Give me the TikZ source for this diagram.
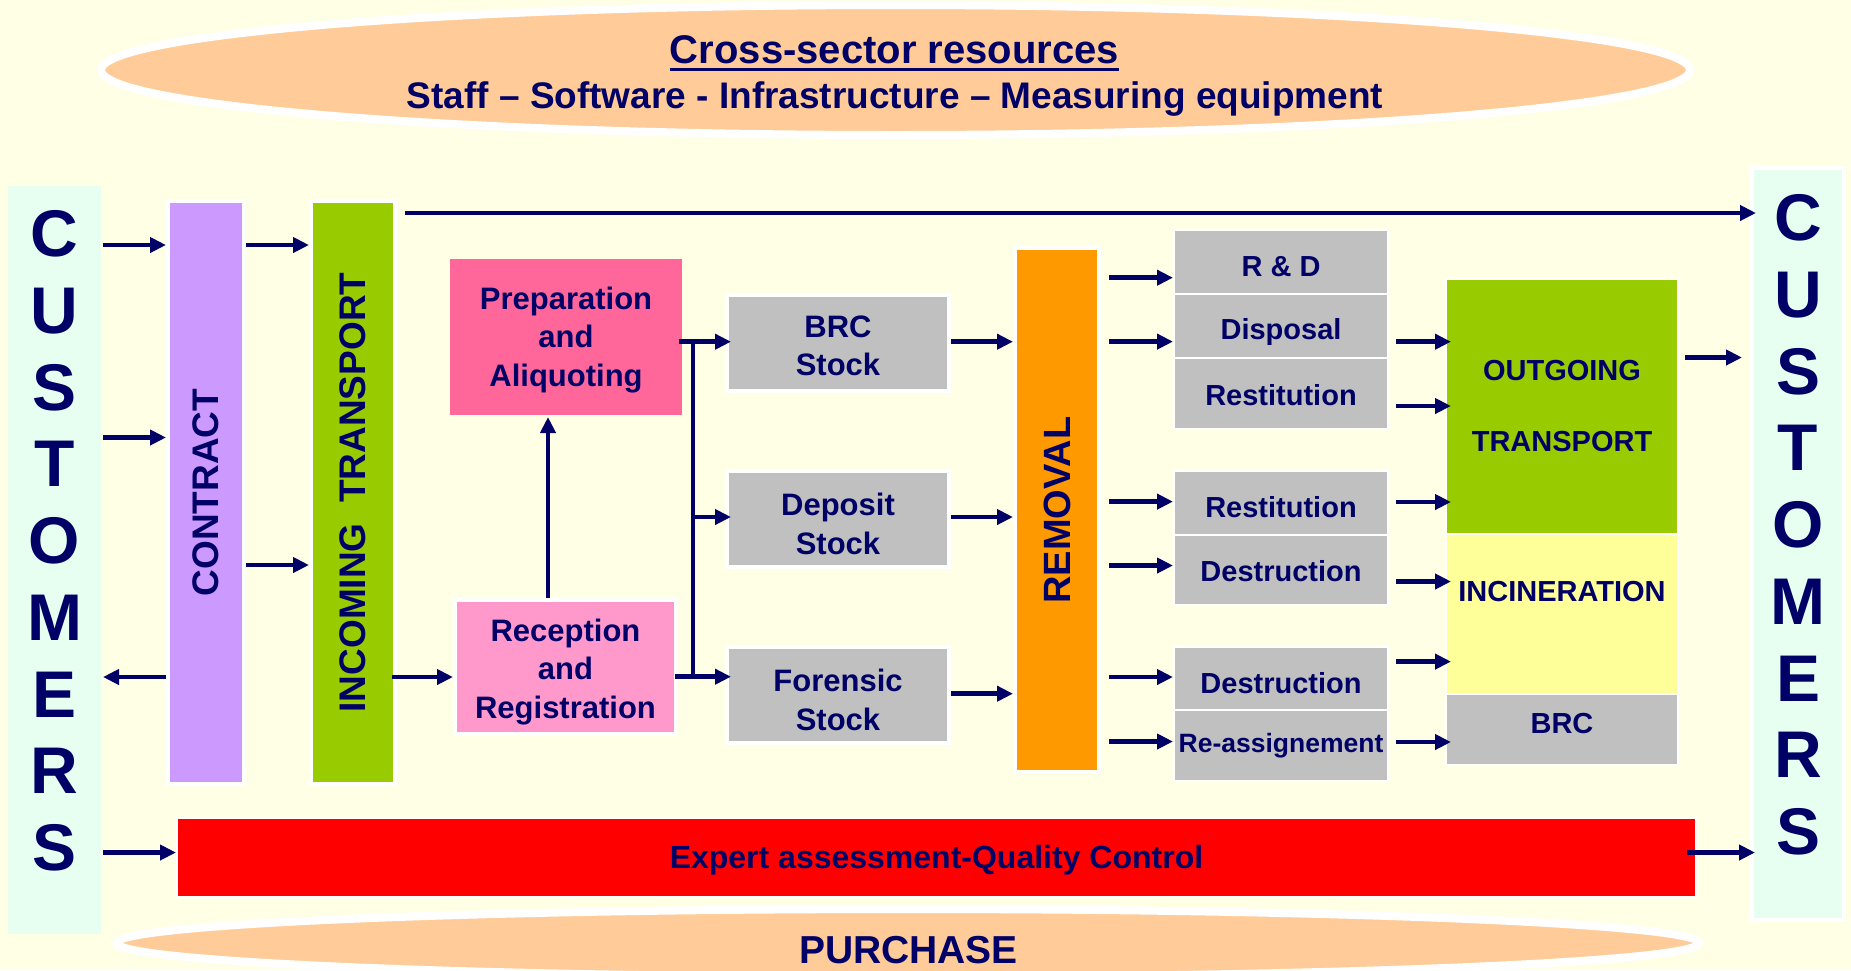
\documentclass[tikz,border=0pt]{standalone}
\usepackage{fontspec}
\setmainfont{Liberation Sans}
\usetikzlibrary{shapes.geometric,arrows.meta}

\definecolor{bgyellow}{HTML}{FFFFE5}
\definecolor{peach}{HTML}{FFCC99}
\definecolor{navy}{HTML}{000066}
\definecolor{mint}{HTML}{E6FFF0}
\definecolor{lilac}{HTML}{CC99FF}
\definecolor{lime}{HTML}{99CC00}
\definecolor{rosered}{HTML}{FF6699}
\definecolor{rosepink}{HTML}{FF99CC}
\definecolor{stockgray}{HTML}{C0C0C0}
\definecolor{amber}{HTML}{FF9900}
\definecolor{paleyellow}{HTML}{FFFF99}
\definecolor{alertred}{HTML}{FF0000}

\newcommand{\fs}[2]{\fontsize{#1}{#2}\selectfont}
% horizontal connector between two nodes at a given height
\newcommand{\flow}[4][]{%
  \coordinate (lvl) at (0,#4);
  \draw[arr,#1] (#2 |- lvl) -- (#3 |- lvl);}

\begin{document}
\begin{tikzpicture}[x=1pt,y=-1pt,
  box/.style={rectangle, inner sep=0pt, draw=white, line width=4pt},
  stock/.style={box, fill=stockgray},
  sub/.style={box, fill=stockgray, line width=2pt},
  rot/.style={rotate=90, inner sep=0pt, text=navy},
  lbl/.style={inner sep=0pt, text=navy, align=center},
  big/.style={lbl, font={\bfseries\fs{31}{38.6}}},
  small/.style={lbl, font={\bfseries\fs{29}{34}}},
  arr/.style={draw=navy, line width=4.5pt, -{Triangle[length=16pt,width=15pt]}},
  ln/.style={draw=navy, line width=4.5pt},
  oval/.style={ellipse, draw=white, line width=8pt, fill=peach, inner sep=0pt}]

\useasboundingbox (0,0) rectangle (1851,970);
\fill[bgyellow] (0,0) rectangle (1851,970);

% shared resources
\node[oval, minimum width=1589, minimum height=130] (res) at (895.5,70) {};
\node[lbl, anchor=base, font={\bfseries\fs{40}{46}}] (title) at (894.5,63) {Cross-sector resources};
\draw[navy, line width=3pt] ([yshift=-6pt]title.base west) -- ([yshift=-6pt]title.base east);
\node[lbl, anchor=base, font={\bfseries\fs{37}{44}}] (items) at (895,108)
  {Staff – Software - Infrastructure – Measuring equipment};

% purchase
\node[oval, minimum width=1583, minimum height=68] (purch) at (908,943) {};
\node[lbl, font={\bfseries\fs{39}{44}}] (purchT) at (908.5,950) {PURCHASE};

% customers columns
\node[box, draw=none, fill=mint, minimum width=93, minimum height=748] (custL) at (54.5,560) {};
\node[lbl, font={\bfseries\fs{66}{76.75}}] (custLT) at (54.5,541) {C\\U\\S\\T\\O\\M\\E\\R\\S};
\node[box, fill=mint, minimum width=92, minimum height=752] (custR) at (1798,544) {};
\node[lbl, font={\bfseries\fs{66}{76.75}}] (custRT) at (1798,525) {C\\U\\S\\T\\O\\M\\E\\R\\S};

% contract and incoming transport
\node[box, fill=lilac, minimum width=76, minimum height=583] (contract) at (206,492.5) {};
\node[rot, font={\bfseries\fs{37}{44}}] (contractT) at (contract) {CONTRACT};
\node[box, fill=lime, minimum width=84, minimum height=583] (incoming) at (353,492.5) {};
\node[rot, font={\bfseries\fs{37}{44}}] (incomingT) at (incoming) {INCOMING~~TRANSPORT};

% laboratory steps
\node[box, draw=none, fill=rosered, minimum width=232, minimum height=156] (prep) at (566,337) {};
\node[big] (prepT) at ([yshift=-3pt]prep) {Preparation\\and\\Aliquoting};
\node[box, fill=rosepink, minimum width=221, minimum height=134] (recep) at (565.5,667) {};
\node[big] (recepT) at ([yshift=-5pt]recep) {Reception\\and\\Registration};

% stocks
\node[stock, minimum width=222, minimum height=96] (brcS) at (838,343) {};
\node[big] (brcST) at ([yshift=-3pt]brcS) {BRC\\Stock};
\node[stock, minimum width=222, minimum height=96] (depS) at (838,519) {};
\node[big] (depST) at ([yshift=-5pt]depS) {Deposit\\Stock};
\node[stock, minimum width=222, minimum height=96] (forS) at (838,695) {};
\node[big] (forST) at ([yshift=-5pt]forS) {Forensic\\Stock};

% removal
\node[box, fill=amber, minimum width=84, minimum height=524] (removal) at (1057,510) {};
\node[rot, font={\bfseries\fs{38}{44}}] (removalT) at (removal) {REMOVAL};

% destinations
\node[sub, minimum width=214, minimum height=64] (rd) at (1281,262) {};
\node[small] (rdT) at ([yshift=-5pt]rd) {R \& D};
\node[sub, minimum width=214, minimum height=64] (disposal) at (1281,326) {};
\node[small] (disposalT) at ([yshift=-6pt]disposal) {Disposal};
\node[sub, minimum width=214, minimum height=71] (restA) at (1281,393.5) {};
\node[small] (restAT) at ([yshift=-2pt]restA) {Restitution};
\node[sub, minimum width=214, minimum height=64] (restB) at (1281,503) {};
\node[small] (restBT) at ([yshift=-4pt]restB) {Restitution};
\node[sub, minimum width=214, minimum height=70] (destA) at (1281,570) {};
\node[small] (destAT) at ([yshift=-1pt]destA) {Destruction};
\node[sub, minimum width=214, minimum height=63] (destB) at (1281,678.5) {};
\node[small] (destBT) at ([yshift=-5pt]destB) {Destruction};
\node[sub, minimum width=214, minimum height=71] (reas) at (1281,745.5) {};
\node[lbl, font={\bfseries\fs{26.5}{32}}] (reasT) at (reas) {Re-assignement};

% outgoing column
\node[box, line width=2pt, fill=lime, minimum width=232, minimum height=255] (outgoing) at (1562,406.5) {};
\node[lbl, font={\bfseries\fs{29}{71}}] (outgoingT) at (outgoing) {OUTGOING\\TRANSPORT};
\node[box, line width=2pt, fill=paleyellow, minimum width=232, minimum height=160] (incin) at (1562,614) {};
\node[small] (incinT) at (1562,592) {INCINERATION};
\node[box, line width=2pt, fill=stockgray, minimum width=232, minimum height=71] (brc) at (1562,729.5) {};
\node[small] (brcT) at (1562,724) {BRC};

% quality control band
\node[box, line width=2pt, fill=alertred, minimum width=1519, minimum height=79] (expert) at (936.5,857.5) {};
\node[lbl, font={\bfseries\fs{32}{38}}] (expertT) at ([yshift=-3pt]expert) {Expert assessment-Quality Control};

% connectors: customers and contract
\flow{custL.east}{contract.west}{245}
\flow{custL.east}{contract.west}{437.5}
\flow{contract.west}{custL.east}{677}
\flow{contract.east}{incoming.west}{245}
\flow{contract.east}{incoming.west}{565}
\flow[shorten <=-5pt]{incoming.east}{recep.west}{677}
\flow[shorten <=8pt, shorten >=-6pt]{incoming.east}{custR.west}{213}

% reception to preparation
\coordinate (px) at (548,0);
\draw[arr] (recep.north -| px) -- (prep.south -| px);

% distribution to the stocks
\coordinate (jt) at (693,341.7);
\coordinate (jb) at (693,676.7);
\draw[ln] (jt) -- (jb);
\flow[shorten <=-5pt, shorten >=-6pt]{prep.east}{brcS.west}{341.7}
\flow[shorten >=-6pt]{jt}{depS.west}{517}
\flow[shorten <=-3pt, shorten >=-6pt]{recep.east}{forS.west}{676.7}

% stocks to removal
\flow{brcS.east}{removal.west}{341.7}
\flow{depS.east}{removal.west}{517}
\flow{forS.east}{removal.west}{693.7}

% removal to destinations
\flow[shorten <=8pt]{removal.east}{rd.west}{277.7}
\flow[shorten <=8pt]{removal.east}{disposal.west}{341.6}
\flow[shorten <=8pt]{removal.east}{restB.west}{501.6}
\flow[shorten <=8pt]{removal.east}{destA.west}{565.5}
\flow[shorten <=8pt]{removal.east}{destB.west}{677}
\flow[shorten <=8pt]{removal.east}{reas.west}{741.5}

% destinations to the outgoing column
\flow[shorten <=7pt, shorten >=-6pt]{disposal.east}{outgoing.west}{341.7}
\flow[shorten <=7pt, shorten >=-6pt]{restA.east}{outgoing.west}{406}
\flow[shorten <=7pt, shorten >=-6pt]{restB.east}{outgoing.west}{502}
\flow[shorten <=7pt, shorten >=-6pt]{destA.east}{incin.west}{581.5}
\flow[shorten <=7pt, shorten >=-6pt]{destB.east}{incin.west}{661.6}
\flow[shorten <=7pt, shorten >=-6pt]{reas.east}{brc.west}{742}
\flow[shorten <=6pt, shorten >=8pt]{outgoing.east}{custR.west}{357.5}

% quality control
\flow{custL.east}{expert.west}{852.5}
\flow[shorten <=-10pt, shorten >=-5pt]{expert.east}{custR.west}{852.5}

\end{tikzpicture}
\end{document}
